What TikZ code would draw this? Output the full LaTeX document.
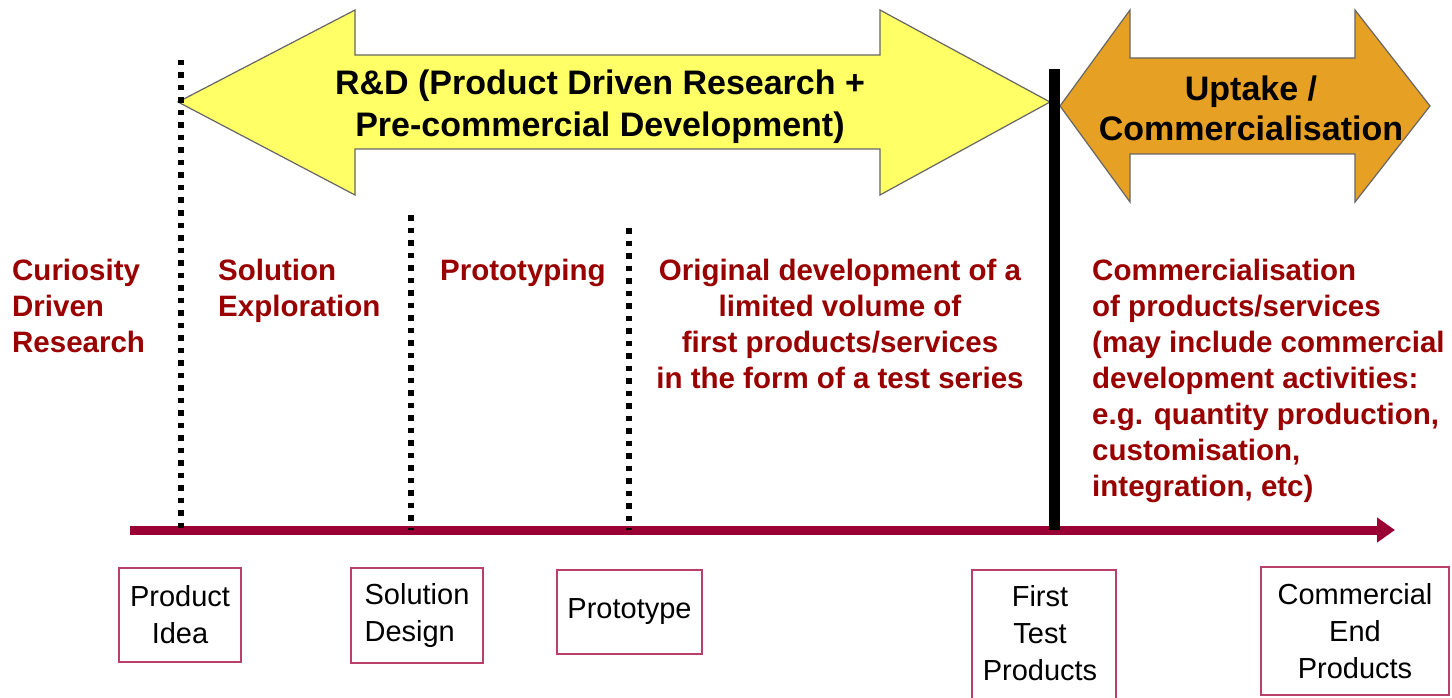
\documentclass[tikz,border=0pt]{standalone}
\usepackage{fontspec}
\setmainfont{Liberation Sans}
\usetikzlibrary{arrows.meta}

\definecolor{rdyellow}{HTML}{FFFF66}
\definecolor{uporange}{HTML}{E6A024}
\definecolor{stagered}{HTML}{990000}
\definecolor{linered}{HTML}{990033}
\definecolor{boxred}{HTML}{B8406A}

\begin{document}
\begin{tikzpicture}[x=1pt, y=-1pt,
  stage/.style={font=\bfseries\fontsize{29.5pt}{36pt}\selectfont, text=stagered, inner sep=0pt, align=left, anchor=north west},
  phase/.style={font=\bfseries\fontsize{34pt}{42pt}\selectfont, align=center, inner sep=0pt},
  milestone/.style={draw=boxred, line width=1.5pt, font=\fontsize{29pt}{37pt}\selectfont, align=center, inner sep=0pt},
  gate/.style={line width=5.5pt, dash pattern=on 5.5pt off 7pt}]

\useasboundingbox (0,0) rectangle (1452,698);

% the two phases
\draw[fill=rdyellow, draw=black!60, line width=1.2pt] (178,102) -- (355,10) -- (355,55) -- (880,55) -- (880,10) -- (1050,102)
  -- (880,195) -- (880,149) -- (355,149) -- (355,195) -- cycle;
\node[phase] (rd) at (600,107) {R\&D (Product Driven Research +\\Pre-commercial Development)};

\draw[fill=uporange, draw=black!60, line width=1.2pt] (1060,106) -- (1130,10) -- (1130,58) -- (1355,58) -- (1355,10) -- (1430,106)
  -- (1355,202) -- (1355,154) -- (1130,154) -- (1130,202) -- cycle;
\node[phase, font=\bfseries\fontsize{34pt}{40pt}\selectfont] (uptake) at (1251,108) {Uptake /\\Commercialisation};

% time line
\coordinate (start) at (130,530);
\coordinate (end) at (1395,530);
\draw[linered, line width=9pt, -{Triangle[length=18pt,width=24pt]}] (start) -- (end);

\foreach \x/\top in {181/60, 411/215, 629/228}
  \draw[gate] (\x,\top) -- (\x,530);
\draw[line width=11pt] (1054,69) -- (1054,530);

% stages
\node[stage] (curiosity) at (12,259) {Curiosity\\Driven\\Research};
\node[stage] (explore) at (218,259) {Solution\\Exploration};
\node[stage] (prototyping) at (440,259) {Prototyping};
\node[stage, align=center, anchor=north] (original) at (840,259) {Original development of a\\limited volume of\\first products/services\hspace{12pt}\\in the form of a test series};
\node[stage] (commercial) at (1092,259) {Commercialisation\\of products/services\\(may include commercial\\development activities:\\e.g. quantity production,\\customisation,\\integration, etc)};

% milestones
\node[milestone, minimum width=122pt, minimum height=94pt] (idea) at (180,615) {Product\\Idea};
\node[milestone, minimum width=132pt, minimum height=95pt, align=left] (design) at (417,615.5) {Solution\\Design};
\node[milestone, minimum width=145pt, minimum height=84pt] (prototype) at (629.5,612) {Prototype};
\node[milestone, draw=none] (first) at (1040,633) {First\\Test\\Products};
\draw[boxred, line width=1.5pt] (972,570) rectangle (1116,720);
\node[milestone, minimum width=188pt, minimum height=128pt] (endprod) at (1355,631) {Commercial\\End\\Products};

\end{tikzpicture}
\end{document}
